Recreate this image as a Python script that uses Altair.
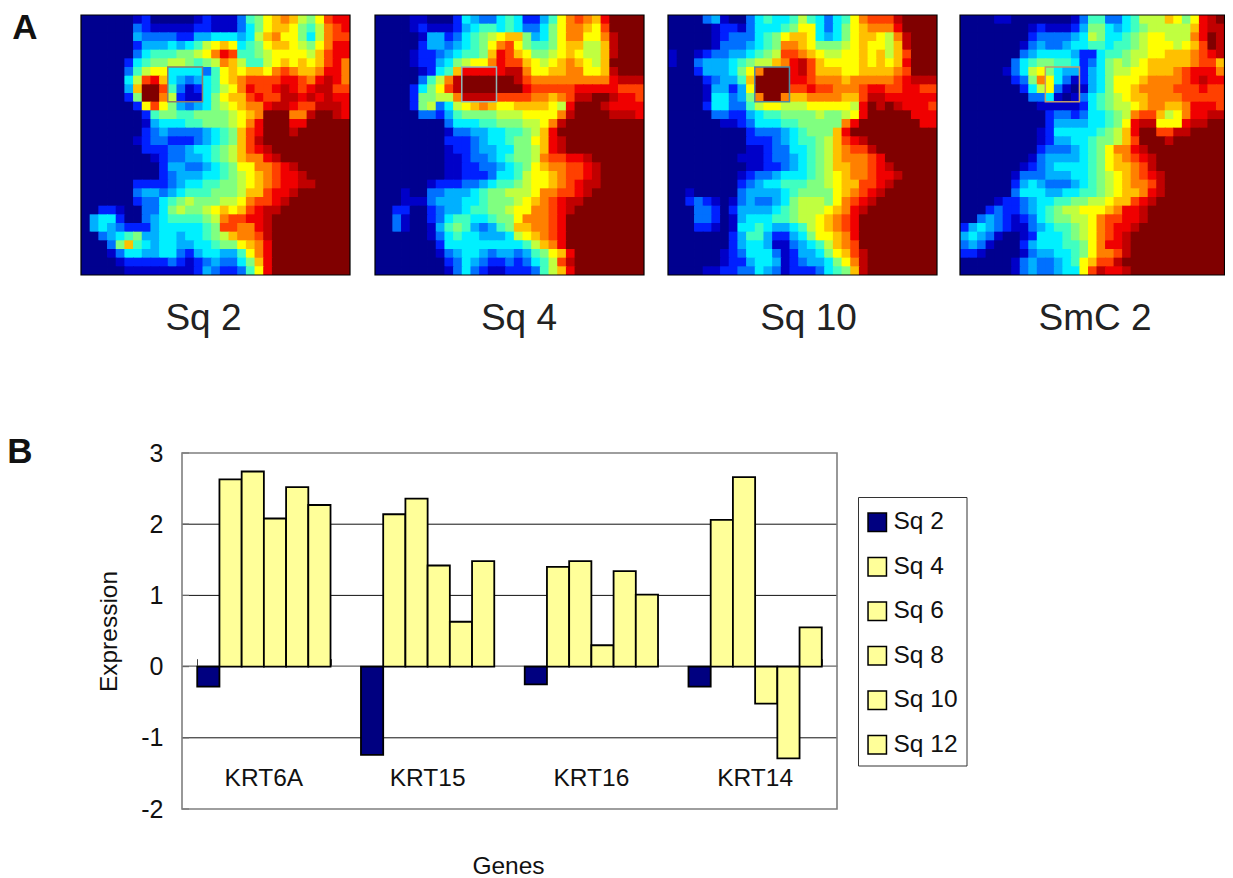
import altair as alt
import pandas as pd

SQ2 = ["0000001200000121113679aba879cdd","0000003211111221113579aa9768bcd","000000433332244555458ab99758bcc",
"0000002444545689a95679aa9879bdd","000000356667789bdc667899998acdd","0000025677887678ba86689a9a9acdb",
"00000368995555369a9aa9bcbaabddb","0000058cda5434569abccccddcbdedb","000004affc63125689bdccdedcdeecc",
"0000027ffb8211579aacdcceedededd","00000029c974345789abbdeedcceeed","0000000267766777789abfffbbeffed",
"0000000145556677789bdfffddfffff","000000023433334567acdfffeffffff","000000123322234567aceffffffffff",
"000000022233455678acdefffffffff","000000001233445678abbdeffffffff","00000000024433456799bbcdeffffff",
"00000000023444556789abcddefffff","00000022223455667789abcddeeffff","0000003443456667778aacddeffffff",
"0000002335678777889bccdefffffff","0022100335787789a9acdeeffffffff","0455200345666678bccddefffffffff",
"0454322245555567ccbbdefffffffff","00345674455455678abbcefffffffff","00037a6545544556779abdfffffffff",
"00013554455324554469bdfffffffff","00001222223212343357adfffffffff","000001111111124322369dfffffffff"]

SQ4 = ["0000110002543356522469bcbadffff","0000121112456656533579bba9cffff","000001442356789aa74579bb99befff",
"00000244345679bc976679aa88aefff","0000122345667adca97789a988aefff","0000122457899bdcca989aba98affff",
"000001256adddddeeb99aabb99aefff","00000368beffffffecbbbbbbbbbdeee","00002579cefffffffdcccccdddddccc",
"000027788beeeeccccbbabceeffeddc","00002783589aba99aaaa98dfffedddd","000003324677778889999beffffeeed",
"00000000355566777889befffffffff","0000000013344556678adffffffffff","0000000022234556779adefffffffff",
"0000000012234455778adefffffffff","0000000011233456778bccddeffffff","0000000011223345679abbccdefffff",
"00000000112223556899abccdefffff","00000012223345667899abcdeefffff","0001003344456778889bbccdeffffff",
"000111344455677789abcdeefffffff","002200234456677899bbcdeffffffff","00310023566556779bbbcdfffffffff",
"0031001467643467aabbcdfffffffff","000000135655444589abcdfffffffff","0000000255555555568abdfffffffff",
"000000013455434434679adffffffff","000000002354322323568ceffffffff","000000001353211222368adffffffff"]

SQ10 = ["0000341003565568653569bccceffff","0000012213555679953579abbbdffff","00000123335679aa954579aa98befff",
"0000013334567bba977789a998aefff","1001233445678ccba98899a9a8acfff","100344456788abdeca9999a9a9adfff",
"0002444579bfffdecaaa99aaaabcfff","000023446affffddcbbbabbbbbcdeee","0000144249ffffccdccbbbcddccddcc",
"0000155347bffbaabbbbaaceedddddd","0000255336899888999998dfefedddc","0000033224566777787789dfffffddd",
"00000011235556677777bdfffffffdd","0000000002333456777adffffffffff","0000000002223456678acdeffffffff",
"0000000001123355678abccefffffff","0000000011123345678abbbcdffffff","0000000001122345678aabbcdefffff",
"00000000123345556789abbcddeffff","00000000234556667789aaccdefffff","00100000344445677779abcdeffffff",
"00232101343345788879bcdefffffff","0003320244445678889abdeffffffff","000332014555667889abcdfffffffff",
"000221015565445689abcdfffffffff","0000000246642245799abdfffffffff","0000000245541134568abcfffffffff",
"00000012355531244579aceffffffff","000000122455412344579beffffffff","000011223354312223567aeffffffff"]

SMC2 = ["000011000000013663356888a979def","000000001211124775456788888adee","000000002333345875567899888bdfe",
"000000013433455665667899989acfe","000000034555542256678899aaabcde","0000003567766523578789aaaaabcca",
"0000013589754424578899aaabcdddb","000000237b95312457999abbbbcdedd","00000002589310145799abbbbcccdcc",
"00000000335101356789aabbbbccccc","000000000111112567889abbaabdddc","00000000002332355678bcca89bddee",
"00000000002444455679dee999deeff","0000000001255555678adffcceeffff","0000000001244556778acfffeffffff",
"000000000233345679bbdefffffffff","000000001344445679abcdeffffffff","000000012345555679aabceffffffff",
"0000001333444556789abcdefffffff","0000002454333456789abbcefffffff","0000003555445566789aabdefffffff",
"000012234556677889aacdeffffffff","00023223456788999abddefffffffff","0034321235677889bccddefffffffff",
"2454321134566789bcddeffffffffff","4543100125556789bcdefffffffffff","3431000245556679bddefffffffffff",
"2210000134455679bbcefffffffffff","000000134334569accefffffffffff","000000134334559ceddefffffffff"]

PANELS = [("Sq 2", SQ2), ("Sq 4", SQ4), ("Sq 10", SQ10), ("SmC 2", SMC2)]
PANEL_LEFT = [73, 367, 660, 952]
PANEL_WIDTH = [269, 269, 269, 264.5]
LABEL_X = [195.5, 511, 800.5, 1087]
BOX_COLORS = ["#8f7a66", "#8fb8b8", "#4f8aa0", "#c29a6a"]

LEVELS = list("0123456789abcdef")
JET = ["#00008f", "#0000c8", "#0020ff", "#0070ff", "#00b0ff", "#00f0ff", "#40ffc0", "#80ff80",
       "#c0ff40", "#ffff00", "#ffc000", "#ff8000", "#ff4000", "#f00000", "#c00000", "#800000"]

GENES = ["KRT6A", "KRT15", "KRT16", "KRT14"]
SERIES = ["Sq 2", "Sq 4", "Sq 6", "Sq 8", "Sq 10", "Sq 12"]
KRT6A = [-0.28, 2.63, 2.74, 2.08, 2.52, 2.27]
KRT15 = [-1.24, 2.14, 2.36, 1.42, 0.63, 1.48]
KRT16 = [-0.25, 1.40, 1.48, 0.30, 1.34, 1.01]
KRT14 = [-0.28, 2.06, 2.66, -0.52, -1.29, 0.55]
BAR_COLORS = ["#000080", "#ffff99", "#ffff99", "#ffff99", "#ffff99", "#ffff99"]
Y_TICKS = [-2, -1, 0, 1, 2, 3]
FONT = "Liberation Sans"

layers = []
color = alt.Scale(domain=LEVELS, range=JET)
for i, (name, rows) in enumerate(PANELS):
    cells = []
    for r, row in enumerate(rows):
        row = row.ljust(31, "f")[:31]
        for c, ch in enumerate(row):
            cells.append({"c": c, "c2": min(c + 1.1, 31), "r": r, "r2": min(r + 1.1, 30), "v": ch})
    xs = alt.Scale(domain=[0, 31], range=[PANEL_LEFT[i], PANEL_LEFT[i] + PANEL_WIDTH[i]], nice=False, zero=False)
    ys = alt.Scale(domain=[0, 30], range=[7, 267], nice=False, zero=False)
    layers.append(alt.Chart(pd.DataFrame(cells)).mark_rect().encode(
        x=alt.X("c:Q", scale=xs, axis=None), x2="c2:Q",
        y=alt.Y("r:Q", scale=ys, axis=None), y2="r2:Q",
        color=alt.Color("v:N", scale=color, legend=None)))
    frame = pd.DataFrame([{"c": 0, "c2": 31, "r": 0, "r2": 30}])
    layers.append(alt.Chart(frame).mark_rect(fill=None, stroke="black", strokeWidth=1.2).encode(
        x=alt.X("c:Q", scale=xs, axis=None), x2="c2:Q",
        y=alt.Y("r:Q", scale=ys, axis=None), y2="r2:Q"))
    box = pd.DataFrame([{"c": 10, "c2": 14, "r": 6, "r2": 10}])
    layers.append(alt.Chart(box).mark_rect(fill=None, stroke=BOX_COLORS[i], strokeWidth=1.5).encode(
        x=alt.X("c:Q", scale=xs, axis=None), x2="c2:Q",
        y=alt.Y("r:Q", scale=ys, axis=None), y2="r2:Q"))
    layers.append(alt.Chart(pd.DataFrame([{"t": name}])).mark_text(
        font=FONT, fontSize=37, color="#222222", align="center", baseline="middle").encode(
        text="t:N", x=alt.value(LABEL_X[i]), y=alt.value(311)))

for letter, px, py in [("A", 17, 20), ("B", 12, 444)]:
    layers.append(alt.Chart(pd.DataFrame([{"t": letter}])).mark_text(
        font=FONT, fontSize=35, fontWeight="bold", color="#111111", align="center", baseline="middle").encode(
        text="t:N", x=alt.value(px), y=alt.value(py)))

y_scale = alt.Scale(domain=[-2, 3], range=[801, 445], nice=False, zero=False)
x_scale = alt.Scale(domain=GENES, range=[174, 829], paddingInner=0.186, paddingOuter=0.093)

ticks = pd.DataFrame({"y": Y_TICKS})
layers.append(alt.Chart(ticks[ticks.y.isin([-1, 1, 2])]).mark_rule(color="#111111", strokeWidth=1).encode(
    y=alt.Y("y:Q", scale=y_scale, axis=None), x=alt.value(174), x2=alt.value(829)))
layers.append(alt.Chart(ticks).mark_rule(color="#666666", strokeWidth=1.2).encode(
    y=alt.Y("y:Q", scale=y_scale, axis=alt.Axis(
        orient="left", offset=-174, values=Y_TICKS, tickSize=0, domain=False, grid=False,
        labelExpr="'' + datum.value",
        labelFont=FONT, labelFontSize=25, labelColor="#111111", labelPadding=19,
        title="Expression", titleFont=FONT, titleFontSize=24.5, titleFontWeight="normal",
        titleColor="#111111", titlePadding=19)),
    x=alt.value(174), x2=alt.value(181)))

plot_frame = pd.DataFrame([{"top": 3, "bottom": -2}])
layers.append(alt.Chart(plot_frame).mark_rect(fill=None, stroke="#7f7f7f", strokeWidth=1.6).encode(
    y=alt.Y("top:Q", scale=y_scale, axis=None), y2="bottom:Q", x=alt.value(174), x2=alt.value(829)))

legend_box = pd.DataFrame([{"k": 1}])
layers.append(alt.Chart(legend_box).mark_rect(fill="white", stroke="#333333", strokeWidth=1).encode(
    x=alt.value(850.5), x2=alt.value(959), y=alt.value(489.5), y2=alt.value(758)))

bars = pd.DataFrame([{"gene": g, "series": s, "value": v}
                     for g, vals in zip(GENES, [KRT6A, KRT15, KRT16, KRT14])
                     for s, v in zip(SERIES, vals)])
layers.append(alt.Chart(bars).mark_bar(stroke="#000000", strokeWidth=1.8).encode(
    x=alt.X("gene:N", sort=GENES, scale=x_scale, axis=alt.Axis(
        orient="top", offset=-657.7, labels=False, title=None, tickBand="extent",
        tickSize=7, tickColor="#444444", domainColor="#666666", domainWidth=1.2, grid=False)),
    xOffset=alt.XOffset("series:N", sort=SERIES, scale=alt.Scale(domain=SERIES)),
    y=alt.Y("value:Q", scale=y_scale, axis=None, stack=None),
    color=alt.Color("series:N", sort=SERIES, scale=alt.Scale(domain=SERIES, range=BAR_COLORS), legend=alt.Legend(
        orient="none", legendX=848, legendY=493, title=None, symbolType="square", symbolSize=340,
        symbolStrokeColor="#000000", symbolStrokeWidth=1.5, labelFont=FONT, labelFontSize=24.5,
        labelColor="#111111", labelOffset=4, rowPadding=18.5, padding=9, zindex=2))))

layers.append(alt.Chart(pd.DataFrame({"gene": GENES})).mark_text(
    font=FONT, fontSize=24.5, color="#111111", baseline="middle").encode(
    x=alt.X("gene:N", sort=GENES, scale=x_scale, axis=None), text="gene:N", y=alt.value(771)))
layers.append(alt.Chart(pd.DataFrame([{"t": "Genes"}])).mark_text(
    font=FONT, fontSize=24.5, color="#111111", baseline="alphabetic", align="center").encode(
    text="t:N", x=alt.value(500.5), y=alt.value(866)))

chart = alt.layer(*layers).resolve_scale(
    x="independent", y="independent", color="independent", xOffset="independent"
).properties(
    width=1217, height=870, padding=0, autosize=alt.AutoSizeParams(type="none"), background="white"
).configure_view(strokeWidth=0)

chart.save("out.html", embed_options={"renderer": "svg", "actions": False})
